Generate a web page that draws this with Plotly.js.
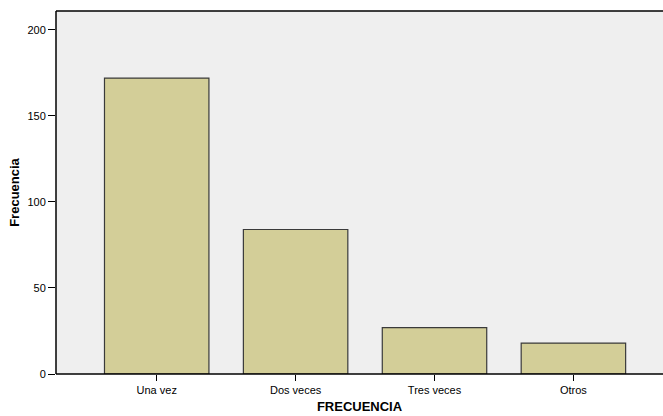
<!DOCTYPE html>
<html>
<head>
<meta charset="utf-8">
<script src="https://cdn.plot.ly/plotly-3.0.1.min.js"></script>
<style>html,body{margin:0;padding:0;background:#fff;overflow:hidden;}#chart{width:663px;height:416px;}</style>
</head>
<body>
<div id="chart"></div>
<script>
const categories = ["Una vez", "Dos veces", "Tres veces", "Otros"];
const frecuencia = [172, 84, 27, 18];
const yTicks = [0, 50, 100, 150, 200];

const trace = {
  type: "bar",
  x: categories,
  y: frecuencia,
  width: 0.752,
  marker: { color: "#d3ce98", line: { color: "#3a3a3a", width: 1.2 } },
  hoverinfo: "skip"
};

const border = { color: "#000", width: 1.5 };

const layout = {
  width: 663,
  height: 416,
  margin: { l: 56, r: 0, t: 11, b: 42 },
  paper_bgcolor: "#ffffff",
  plot_bgcolor: "#efefef",
  showlegend: false,
  font: { family: "Liberation Sans, Arial, sans-serif", size: 11, color: "#000" },
  xaxis: {
    type: "category",
    range: [-0.725, 3.645],
    showline: false,
    ticks: "outside", ticklen: 6, tickwidth: 1, tickcolor: "#000",
    showgrid: false, zeroline: false,
    tickfont: { size: 11, color: "#000" },
    title: { text: "FRECUENCIA", font: { size: 13, weight: "bold", color: "#000" }, standoff: 6 }
  },
  yaxis: {
    range: [0, 211],
    tickvals: yTicks,
    ticktext: yTicks.map(String),
    showline: false,
    ticks: "outside", ticklen: 7, tickwidth: 1, tickcolor: "#000",
    showgrid: false, zeroline: false,
    tickfont: { size: 11, color: "#000" },
    title: { text: "Frecuencia", font: { size: 13, weight: "bold", color: "#000" }, standoff: 4 }
  },
  shapes: [
    { type: "line", xref: "paper", yref: "paper", x0: 0, x1: 1, y0: 1, y1: 1, line: border, layer: "above" },
    { type: "line", xref: "paper", yref: "paper", x0: 0, x1: 1, y0: 0, y1: 0, line: border, layer: "above" },
    { type: "line", xref: "paper", yref: "paper", x0: 0, x1: 0, y0: 0, y1: 1, line: border, layer: "above" }
  ]
};

Plotly.newPlot("chart", [trace], layout, { displayModeBar: false, staticPlot: true });
</script>
</body>
</html>
